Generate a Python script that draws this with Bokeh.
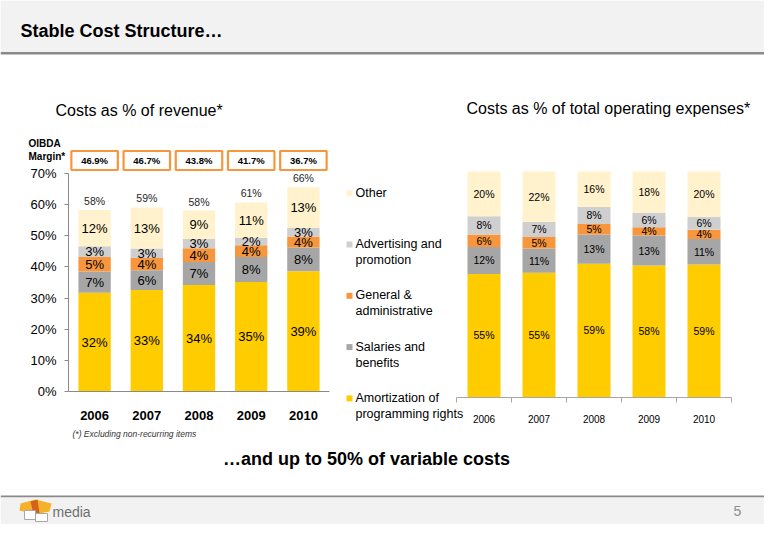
from bokeh.plotting import figure
from bokeh.models import Range1d, LinearAxis, FixedTicker, ColumnDataSource, PrintfTickFormatter
from bokeh.core.properties import value
from bokeh.embed import file_html
from bokeh.resources import INLINE

# ---------------- data ----------------
years = ["2006", "2007", "2008", "2009", "2010"]
series_names = ["Amortization of\nprogramming rights", "Salaries and\nbenefits",
                "General &\nadministrative", "Advertising and\npromotion", "Other"]
series_colors = ["#FFCC00", "#A6A6A6", "#F7963C", "#CFCFCF", "#FFF2CC"]

# Costs as % of revenue
rev_amort = [31.7, 32.6, 34.2, 35.2, 38.6]
rev_salaries = [6.8, 6.3, 7.4, 8.0, 7.6]
rev_ga = [4.7, 4.0, 4.4, 3.8, 3.6]
rev_adv = [3.4, 3.0, 3.0, 2.3, 2.7]
rev_other = [11.7, 13.2, 9.1, 11.4, 13.1]
oibda_margin = [46.9, 46.7, 43.8, 41.7, 36.7]
rev_ticks = [0, 10, 20, 30, 40, 50, 60, 70]

# Costs as % of total operating expenses
opx_amort = [54.6, 55.1, 59.1, 58.3, 58.8]
opx_salaries = [11.9, 10.8, 13.0, 13.3, 11.3]
opx_ga = [5.6, 5.1, 4.6, 3.7, 4.1]
opx_adv = [8.1, 6.6, 7.6, 6.4, 5.6]
opx_other = [19.8, 22.4, 15.7, 18.3, 20.2]

FONT = "Liberation Sans"
W, H = 764, 524


def lin_range(v0, p0, v1, p1, pa, pb):
    k = (v1 - v0) / (p1 - p0)
    return Range1d(start=v0 + (pa - p0) * k, end=v0 + (pb - p0) * k)


# main canvas ranges use pixel coordinates (y downward)
p = figure(width=W, height=H, x_range=Range1d(0, W), y_range=Range1d(H, 0),
           toolbar_location=None, output_backend="svg", min_border=0,
           x_axis_location=None, y_axis_location=None, outline_line_color=None,
           background_fill_color="white", border_fill_color="white")
p.xgrid.grid_line_color = None
p.ygrid.grid_line_color = None

p.extra_x_ranges = {
    "lx": lin_range(-0.5, 68, 4.5, 329, 0, W),
    "rx": lin_range(-0.5, 456, 4.5, 731, 0, W),
}
p.extra_y_ranges = {
    "ly": lin_range(0, 391, 70, 173, H, 0),
    "ry": lin_range(0, 396.5, 100, 171, H, 0),
}


def label(x, y, txt, size, style="normal", color="#000000", align="left",
          baseline="middle", lh=1.2):
    p.text(x=[x], y=[y], text=[txt], text_font=value(FONT), text_font_size=size,
           text_font_style=style, text_color=color, text_align=align,
           text_baseline=baseline, text_line_height=lh)


# ---------------- header / footer bands ----------------
p.quad(left=0, right=W, top=0, bottom=51.5, fill_color="#F2F2F2", line_color=None)
p.quad(left=0, right=W, top=51.5, bottom=54, fill_color="#8A8A8A", line_color=None)
p.quad(left=0, right=W, top=495, bottom=497, fill_color="#8A8A8A", line_color=None)
p.quad(left=0, right=W, top=497, bottom=H, fill_color="#F2F2F2", line_color=None)

label(20, 30, "Stable Cost Structure\u2026", "18px", "bold")

# logo
p.patches(xs=[[20, 35, 51, 49, 34, 19], [30, 37, 39, 33]],
          ys=[[503, 499, 503, 511, 514, 510], [501, 499, 513, 514]],
          fill_color=["#F6B12B", "#D2621E"], line_color=None)
p.quad(left=[24, 35], right=[35, 47], top=[510, 513], bottom=[519, 521],
       fill_color="white", line_color="#A8A8A8", line_width=1)
label(52, 511, "media", "14px", color="#6E6E6E")
label(733, 510, "5", "14px", color="#8C8C8C")


# ---------------- stacked data ----------------
def build_stack(series_vals):
    xs, bottoms, tops, mids, colors, labels = [], [], [], [], [], []
    cum = [0.0] * len(years)
    for s, vals in enumerate(series_vals):
        for i, v in enumerate(vals):
            xs.append(i)
            bottoms.append(cum[i])
            tops.append(cum[i] + v)
            mids.append(cum[i] + v / 2)
            colors.append(series_colors[s])
            labels.append(f"{v:.0f}%")
            cum[i] += v
    src = ColumnDataSource(dict(x=xs, bottom=bottoms, top=tops, mid=mids,
                                color=colors, label=labels))
    return src, cum


idx = list(range(len(years)))

# ---------------- left chart ----------------
left_src, left_tot = build_stack([rev_amort, rev_salaries, rev_ga, rev_adv, rev_other])
p.vbar(x="x", width=0.62, bottom="bottom", top="top", fill_color="color",
       line_color=None, source=left_src, x_range_name="lx", y_range_name="ly")
p.text(x="x", y="mid", text="label", source=left_src, x_range_name="lx", y_range_name="ly",
       text_align="center", text_baseline="middle", text_font=value(FONT),
       text_font_size="13px", text_color="#000000")
p.text(x=idx, y=left_tot, text=[f"{t:.0f}%" for t in left_tot], x_range_name="lx",
       y_range_name="ly", text_align="center", text_baseline="bottom", y_offset=-3,
       text_font=value(FONT), text_font_size="10.5px", text_color="#262626")

# OIBDA margin boxes
p.rect(x=idx, y=160, width=0.89, height=19, height_units="screen", x_range_name="lx",
       fill_color="white", line_color="#F7963C", line_width=2.2)
p.text(x=idx, y=160, text=[f"{m:.1f}%" for m in oibda_margin], x_range_name="lx",
       text_align="center", text_baseline="middle", text_font=value(FONT),
       text_font_size="9.5px", text_font_style="bold", text_color="#000000")
label(28, 137.5, "OIBDA\nMargin*", "10px", "bold", baseline="top", lh=1.2)

yax = LinearAxis(y_range_name="ly", fixed_location=68, bounds=(0, 70),
                 ticker=FixedTicker(ticks=rev_ticks),
                 formatter=PrintfTickFormatter(format="%d%%"))
yax.major_tick_out = 4
yax.major_tick_in = 0
yax.minor_tick_line_color = None
yax.axis_line_color = "#8A8A8A"
yax.major_tick_line_color = "#8A8A8A"
yax.major_label_text_font = FONT
yax.major_label_text_font_size = "13px"
yax.major_label_text_color = "#000000"
yax.major_label_standoff = 8
p.add_layout(yax, "left")

xax = LinearAxis(x_range_name="lx", fixed_location=391, bounds=(-0.5, 4.5),
                 ticker=FixedTicker(ticks=idx),
                 major_label_overrides={i: y for i, y in enumerate(years)})
xax.major_tick_line_color = None
xax.minor_tick_line_color = None
xax.axis_line_color = "#8A8A8A"
xax.major_label_text_font = FONT
xax.major_label_text_font_size = "13px"
xax.major_label_text_font_style = "bold"
xax.major_label_text_color = "#000000"
xax.major_label_standoff = 13
p.add_layout(xax, "below")

label(55, 110, "Costs as % of revenue*", "16px")
label(72, 433, "(*) Excluding non-recurring items", "8.5px", "italic", color="#333333")

# ---------------- right chart ----------------
right_src, right_tot = build_stack([opx_amort, opx_salaries, opx_ga, opx_adv, opx_other])
p.vbar(x="x", width=0.6, bottom="bottom", top="top", fill_color="color",
       line_color=None, source=right_src, x_range_name="rx", y_range_name="ry")
p.text(x="x", y="mid", text="label", source=right_src, x_range_name="rx", y_range_name="ry",
       text_align="center", text_baseline="middle", text_font=value(FONT),
       text_font_size="10.5px", text_color="#000000")

rticks = LinearAxis(x_range_name="rx", fixed_location=396.5, bounds=(-0.5, 4.5),
                    ticker=FixedTicker(ticks=[i - 0.5 for i in range(len(years) + 1)]))
rticks.major_tick_out = 5
rticks.major_tick_in = 0
rticks.minor_tick_line_color = None
rticks.axis_line_color = "#A6A6A6"
rticks.major_tick_line_color = "#A6A6A6"
rticks.major_label_text_color = None
p.add_layout(rticks, "below")

rlab = LinearAxis(x_range_name="rx", fixed_location=396.5, bounds=(-0.5, 4.5),
                  ticker=FixedTicker(ticks=idx),
                  major_label_overrides={i: y for i, y in enumerate(years)})
rlab.major_tick_line_color = None
rlab.minor_tick_line_color = None
rlab.axis_line_color = None
rlab.major_label_text_font = FONT
rlab.major_label_text_font_size = "10px"
rlab.major_label_text_color = "#000000"
rlab.major_label_standoff = 12
p.add_layout(rlab, "below")

label(466, 108, "Costs as % of total operating expenses*", "16px")

# legend (shared)
leg_y0, leg_dy = 192.7, 51.3
for k, s in enumerate(reversed(range(len(series_names)))):
    yy = leg_y0 + k * leg_dy
    p.rect(x=[349], y=[yy], width=6, height=6, width_units="screen", height_units="screen",
           fill_color=series_colors[s], line_color=None)
    label(355, yy - 7.6, series_names[s], "12.5px", baseline="top", lh=1.16)

label(366, 458, "\u2026and up to 50% of variable costs", "18px", "bold", align="center")

open("out.html", "w").write(file_html(p, INLINE))
